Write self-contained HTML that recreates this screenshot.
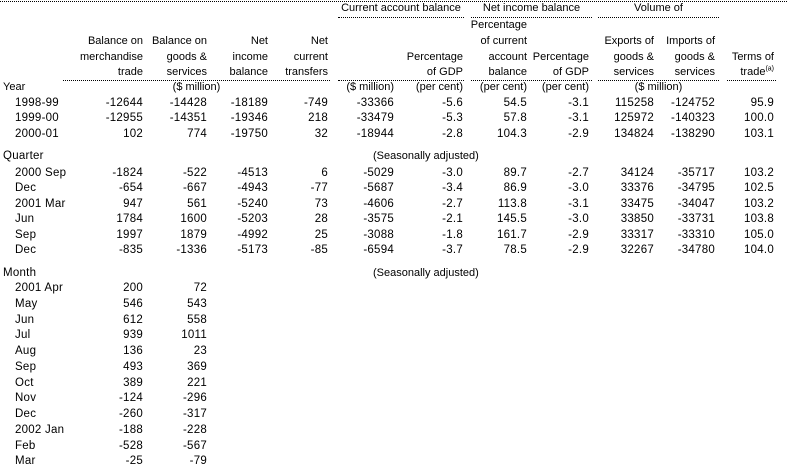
<!DOCTYPE html>
<html><head><meta charset="utf-8"><style>
body{margin:0;background:#fff;}
#p{position:relative;width:787px;height:469px;overflow:hidden;font-family:"Liberation Sans",Arial,sans-serif;font-size:11.5px;color:#000;letter-spacing:0.25px;}
.r{position:absolute;left:0;width:787px;height:16px;line-height:16px;}
.r span{position:absolute;white-space:nowrap;text-align:right;}
.hd{font-size:11px;letter-spacing:0;}
.a{right:644px}.b{right:580px}.c{right:519px}.d{right:459px}.e{right:393px}.f{right:324px}.g{right:260px}.h{right:198px}.i{right:133px}.j{right:72px}.k{right:13px}
.ln{position:absolute;height:0;border-top:1px dotted #000;}
.ctr{position:absolute;text-align:center;white-space:nowrap;line-height:16px;font-size:11px;letter-spacing:0;}
sup{font-size:7px;line-height:0;}
</style></head><body><div id="p">
<div class="ln" style="left:0;width:787px;top:1px"></div>
<div class="ctr" style="left:338px;width:126px;top:0">Current account balance</div>
<div class="ctr" style="left:471px;width:121px;top:0">Net income balance</div>
<div class="ctr" style="left:598px;width:121px;top:0">Volume of</div>
<div class="ln" style="left:338px;width:126px;top:17px"></div>
<div class="ln" style="left:471px;width:121px;top:17px"></div>
<div class="ln" style="left:598px;width:121px;top:17px"></div>

<div class="r hd" style="top:17px"><span class="g">Percentage</span></div>
<div class="r hd" style="top:33px"><span class="a">Balance on</span><span class="b">Balance on</span><span class="c">Net</span><span class="d">Net</span><span class="g">of current</span><span class="i">Exports of</span><span class="j">Imports of</span></div>
<div class="r hd" style="top:49px"><span class="a">merchandise</span><span class="b">goods &amp;</span><span class="c">income</span><span class="d">current</span><span class="f">Percentage</span><span class="g">account</span><span class="h">Percentage</span><span class="i">goods &amp;</span><span class="j">goods &amp;</span><span class="k">Terms of</span></div>
<div class="r hd" style="top:64px"><span class="a">trade</span><span class="b">services</span><span class="c">balance</span><span class="d">transfers</span><span class="f">of GDP</span><span class="g">balance</span><span class="h">of GDP</span><span class="i">services</span><span class="j">services</span><span class="k">trade<sup>(a)</sup></span></div>
<div class="ln" style="left:63px;width:267px;top:80px"></div>
<div class="ln" style="left:338px;width:126px;top:80px"></div>
<div class="ln" style="left:471px;width:121px;top:80px"></div>
<div class="ln" style="left:598px;width:121px;top:80px"></div>
<div class="ln" style="left:727px;width:49px;top:80px"></div>

<div class="r hd" style="top:79px"><span style="left:3px">Year</span><span class="e">($ million)</span><span class="f">(per cent)</span><span class="g">(per cent)</span><span class="h">(per cent)</span></div>
<div class="ctr" style="left:63px;width:267px;top:79px">($ million)</div>
<div class="ctr" style="left:598px;width:121px;top:79px">($ million)</div>

<div class="r" style="top:95px"><span style="left:15px">1998-99</span><span class="a">-12644</span><span class="b">-14428</span><span class="c">-18189</span><span class="d">-749</span><span class="e">-33366</span><span class="f">-5.6</span><span class="g">54.5</span><span class="h">-3.1</span><span class="i">115258</span><span class="j">-124752</span><span class="k">95.9</span></div>
<div class="r" style="top:110px"><span style="left:15px">1999-00</span><span class="a">-12955</span><span class="b">-14351</span><span class="c">-19346</span><span class="d">218</span><span class="e">-33479</span><span class="f">-5.3</span><span class="g">57.8</span><span class="h">-3.1</span><span class="i">125972</span><span class="j">-140323</span><span class="k">100.0</span></div>
<div class="r" style="top:126px"><span style="left:15px">2000-01</span><span class="a">102</span><span class="b">774</span><span class="c">-19750</span><span class="d">32</span><span class="e">-18944</span><span class="f">-2.8</span><span class="g">104.3</span><span class="h">-2.9</span><span class="i">134824</span><span class="j">-138290</span><span class="k">103.1</span></div>

<div class="r" style="top:148px"><span style="left:3px">Quarter</span><span class="hd" style="left:373px">(Seasonally adjusted)</span></div>
<div class="r" style="top:165px"><span style="left:15px">2000 Sep</span><span class="a">-1824</span><span class="b">-522</span><span class="c">-4513</span><span class="d">6</span><span class="e">-5029</span><span class="f">-3.0</span><span class="g">89.7</span><span class="h">-2.7</span><span class="i">34124</span><span class="j">-35717</span><span class="k">103.2</span></div>
<div class="r" style="top:180px"><span style="left:15px">Dec</span><span class="a">-654</span><span class="b">-667</span><span class="c">-4943</span><span class="d">-77</span><span class="e">-5687</span><span class="f">-3.4</span><span class="g">86.9</span><span class="h">-3.0</span><span class="i">33376</span><span class="j">-34795</span><span class="k">102.5</span></div>
<div class="r" style="top:196px"><span style="left:15px">2001 Mar</span><span class="a">947</span><span class="b">561</span><span class="c">-5240</span><span class="d">73</span><span class="e">-4606</span><span class="f">-2.7</span><span class="g">113.8</span><span class="h">-3.1</span><span class="i">33475</span><span class="j">-34047</span><span class="k">103.2</span></div>
<div class="r" style="top:211px"><span style="left:15px">Jun</span><span class="a">1784</span><span class="b">1600</span><span class="c">-5203</span><span class="d">28</span><span class="e">-3575</span><span class="f">-2.1</span><span class="g">145.5</span><span class="h">-3.0</span><span class="i">33850</span><span class="j">-33731</span><span class="k">103.8</span></div>
<div class="r" style="top:227px"><span style="left:15px">Sep</span><span class="a">1997</span><span class="b">1879</span><span class="c">-4992</span><span class="d">25</span><span class="e">-3088</span><span class="f">-1.8</span><span class="g">161.7</span><span class="h">-2.9</span><span class="i">33317</span><span class="j">-33310</span><span class="k">105.0</span></div>
<div class="r" style="top:242px"><span style="left:15px">Dec</span><span class="a">-835</span><span class="b">-1336</span><span class="c">-5173</span><span class="d">-85</span><span class="e">-6594</span><span class="f">-3.7</span><span class="g">78.5</span><span class="h">-2.9</span><span class="i">32267</span><span class="j">-34780</span><span class="k">104.0</span></div>

<div class="r" style="top:265px"><span style="left:3px">Month</span><span class="hd" style="left:373px">(Seasonally adjusted)</span></div>
<div class="r" style="top:280px"><span style="left:15px">2001 Apr</span><span class="a">200</span><span class="b">72</span></div>
<div class="r" style="top:296px"><span style="left:15px">May</span><span class="a">546</span><span class="b">543</span></div>
<div class="r" style="top:312px"><span style="left:15px">Jun</span><span class="a">612</span><span class="b">558</span></div>
<div class="r" style="top:327px"><span style="left:15px">Jul</span><span class="a">939</span><span class="b">1011</span></div>
<div class="r" style="top:343px"><span style="left:15px">Aug</span><span class="a">136</span><span class="b">23</span></div>
<div class="r" style="top:359px"><span style="left:15px">Sep</span><span class="a">493</span><span class="b">369</span></div>
<div class="r" style="top:375px"><span style="left:15px">Oct</span><span class="a">389</span><span class="b">221</span></div>
<div class="r" style="top:390px"><span style="left:15px">Nov</span><span class="a">-124</span><span class="b">-296</span></div>
<div class="r" style="top:406px"><span style="left:15px">Dec</span><span class="a">-260</span><span class="b">-317</span></div>
<div class="r" style="top:422px"><span style="left:15px">2002 Jan</span><span class="a">-188</span><span class="b">-228</span></div>
<div class="r" style="top:438px"><span style="left:15px">Feb</span><span class="a">-528</span><span class="b">-567</span></div>
<div class="r" style="top:453px"><span style="left:15px">Mar</span><span class="a">-25</span><span class="b">-79</span></div>
</div></body></html>
